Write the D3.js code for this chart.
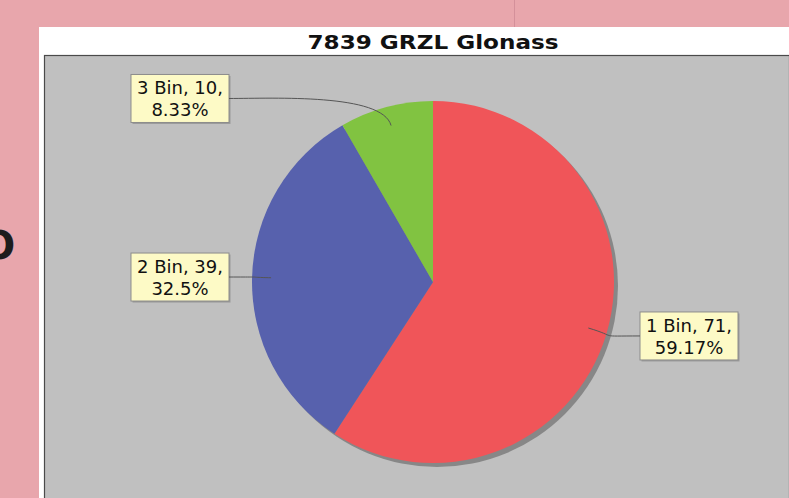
<!DOCTYPE html>
<html>
<head>
<meta charset="utf-8">
<script src="https://cdn.jsdelivr.net/npm/d3@7"></script>
<style>
  html, body { margin: 0; padding: 0; background: #e8a6ac; overflow: hidden; }
  svg { display: block; }
</style>
</head>
<body>
<div id="chart"></div>
<script>
(function() {
    // data
    const categories = ["1 Bin", "2 Bin", "3 Bin"];
    const values = [71, 39, 10];
    const colors = ["#f05559", "#5761ad", "#81c341"];
    const title = "7839 GRZL Glonass";

    const width = 789, height = 498;
    const cx = 433, cy = 282, radius = 181;

    var svg = d3.select("#chart")
        .append("svg")
        .attr("width", width)
        .attr("height", height)
        .style("font-family", "'DejaVu Sans', sans-serif");

    // stray bits of the surrounding page
    svg.append("line")
        .attr("x1", 514.5).attr("x2", 514.5)
        .attr("y1", 0).attr("y2", 27)
        .attr("stroke", "#d4909a").attr("stroke-width", 1);
    svg.append("text")
        .attr("x", -18).attr("y", 259)
        .attr("font-size", 39)
        .attr("font-weight", "bold")
        .attr("fill", "#1c1c1c")
        .text("O");

    // chart panel + plot area
    svg.append("rect")
        .attr("x", 39).attr("y", 27)
        .attr("width", width - 39).attr("height", height - 27)
        .attr("fill", "#ffffff");
    svg.append("rect")
        .attr("x", 44.5).attr("y", 55.5)
        .attr("width", width - 44).attr("height", height)
        .attr("fill", "#c0c0c0")
        .attr("stroke", "#4a4a4a")
        .attr("stroke-width", 1.2);

    svg.append("text")
        .attr("x", 433).attr("y", 49)
        .attr("text-anchor", "middle")
        .attr("font-size", 19)
        .attr("font-weight", "bold")
        .attr("textLength", 251)
        .attr("lengthAdjust", "spacingAndGlyphs")
        .attr("fill", "#111")
        .text(title);

    const data = categories.map((c, i) => ({ name: c, value: values[i], color: colors[i] }));
    const total = d3.sum(values);

    const pie = d3.pie().sort(null).value(d => d.value);
    const arcs = pie(data);
    const arc = d3.arc().innerRadius(0).outerRadius(radius);

    const g = svg.append("g").attr("transform", `translate(${cx}, ${cy})`);

    // shadow
    g.append("circle")
        .attr("cx", 4).attr("cy", 4)
        .attr("r", radius)
        .attr("fill", "#878787");

    g.selectAll("path.slice")
        .data(arcs)
        .enter()
        .append("path")
        .attr("class", "slice")
        .attr("d", arc)
        .attr("fill", d => d.data.color);

    // labels
    const pct = v => parseFloat((v / total * 100).toFixed(2)) + "%";
    const labelR = 190, gapX = 206, linkR = 162;

    arcs.forEach(function(a) {
        const mid = (a.startAngle + a.endAngle) / 2;
        const sx = Math.sin(mid), sy = -Math.cos(mid);
        const right = sx > 0;
        const ly = sy * labelR;

        const lab = g.append("g");
        const t = lab.append("text")
            .attr("text-anchor", "middle")
            .attr("font-size", 18)
            .attr("fill", "#111");
        t.append("tspan").attr("x", 0).attr("y", -4).text(`${a.data.name}, ${a.data.value},`);
        t.append("tspan").attr("x", 0).attr("y", 18).text(pct(a.data.value));

        const tw = t.node().getBBox().width;
        const bw = tw + 12, bh = 48;
        const bx = right ? gapX + 1 : -gapX - bw + 2;
        lab.attr("transform", `translate(${bx + bw / 2}, ${ly})`);

        lab.insert("rect", "text")
            .attr("x", -bw / 2 + 1.5).attr("y", -bh / 2 + 1.5)
            .attr("width", bw).attr("height", bh)
            .attr("fill", "#9a9a9a");
        lab.insert("rect", "text")
            .attr("x", -bw / 2).attr("y", -bh / 2)
            .attr("width", bw).attr("height", bh)
            .attr("fill", "#fdfac6")
            .attr("stroke", "#8c8c8c")
            .attr("stroke-width", 1);

        // link line
        const x0 = sx * linkR, y0 = sy * linkR;
        const x1 = sx * (radius * 1.08), y1 = sy * (radius * 1.08);
        const ex = right ? bx : bx + bw;
        const c2x = right ? ex - 45 : ex + 45;
        const path = d3.path();
        path.moveTo(x0, y0);
        path.bezierCurveTo(x1, y1, c2x, ly, ex, ly);
        g.append("path")
            .attr("d", path.toString())
            .attr("fill", "none")
            .attr("stroke", "#555")
            .attr("stroke-width", 1);
    });
})();
</script>
</body>
</html>
